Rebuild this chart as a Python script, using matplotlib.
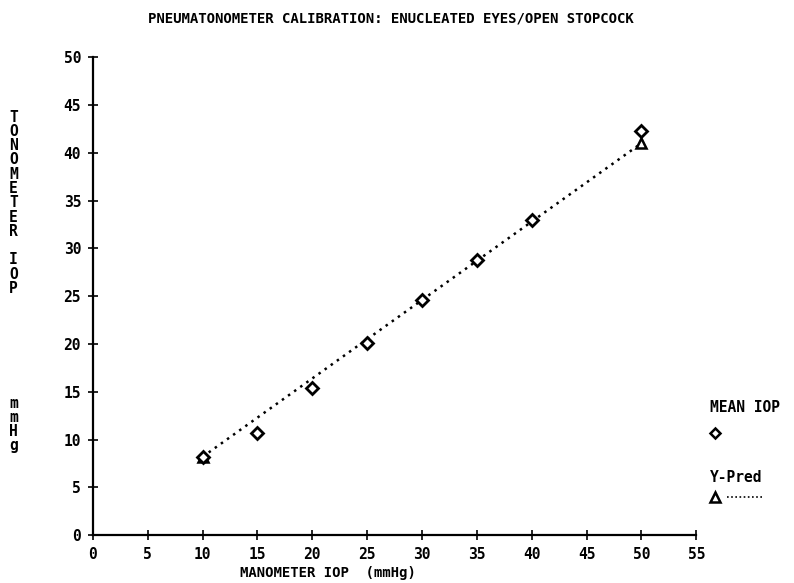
import matplotlib.pyplot as plt
from matplotlib.lines import Line2D

# manometer pressure (mmHg) and tonometer readings
manometer = [10, 15, 20, 25, 30, 35, 40, 50]
mean_iop = [8.2, 10.7, 15.4, 20.1, 24.6, 28.8, 33.0, 42.3]
pred_x = [10, 50]
y_pred = [8.2, 41.0]

x_ticks = list(range(0, 56, 5))
y_ticks = list(range(0, 51, 5))

title = "PNEUMATONOMETER CALIBRATION: ENUCLEATED EYES/OPEN STOPCOCK"
xlabel = "MANOMETER IOP  (mmHg)"
ylabel = "TONOMETER IOP       mmHg"

font = {"family": "DejaVu Sans Mono", "weight": "bold"}

fig = plt.figure(figsize=(7.94, 5.83), dpi=100)
ax = fig.add_axes([0.117, 0.082, 0.760, 0.820])

ax.plot(pred_x, y_pred, color="black", linestyle=(0, (1, 2)), linewidth=1.8,
        marker="^", markersize=7, markerfacecolor="white",
        markeredgecolor="black", markeredgewidth=1.8)
ax.plot(manometer, mean_iop, linestyle="none", marker="D", markersize=6,
        markerfacecolor="white", markeredgecolor="black", markeredgewidth=2)

ax.set_xlim(0, 55)
ax.set_ylim(0, 50)
ax.set_xticks(x_ticks)
ax.set_yticks(y_ticks)
ax.set_xticklabels([str(t) for t in x_ticks], **font, fontsize=10.5)
ax.set_yticklabels([str(t) for t in y_ticks], **font, fontsize=10.5)
ax.tick_params(direction="inout", length=7, width=1.2, pad=5)
for side in ["top", "right"]:
    ax.spines[side].set_visible(False)
for side in ["left", "bottom"]:
    ax.spines[side].set_linewidth(1.6)

ax.set_xlabel(xlabel, **font, fontsize=10)
ax.xaxis.set_label_coords(0.39, -0.065)
fig.text(0.186, 0.968, title, **font, fontsize=10.1, va="center")

# vertical stacked y label
for i, ch in enumerate(ylabel):
    fig.text(0.017, 1 - (117 + i * 14.3) / 583, ch, **font, fontsize=10.5,
             ha="center", va="center")

# legend on the right
fig.text(0.894, 1 - 407 / 583, "MEAN IOP", **font, fontsize=10.5, va="center")
fig.add_artist(Line2D([0.9], [1 - 433 / 583], marker="D", markersize=5.5,
                      markerfacecolor="white", markeredgecolor="black",
                      markeredgewidth=1.8, linestyle="none"))
fig.text(0.894, 1 - 478 / 583, "Y-Pred", **font, fontsize=10.5, va="center")
fig.add_artist(Line2D([0.9], [1 - 497 / 583], marker="^", markersize=7,
                      markerfacecolor="white", markeredgecolor="black",
                      markeredgewidth=1.8, linestyle="none"))
fig.add_artist(Line2D([0.915, 0.962], [1 - 497 / 583] * 2, color="black",
                      linestyle=(0, (1, 1.5)), linewidth=1.2))

fig.savefig("out.png", dpi=100)
